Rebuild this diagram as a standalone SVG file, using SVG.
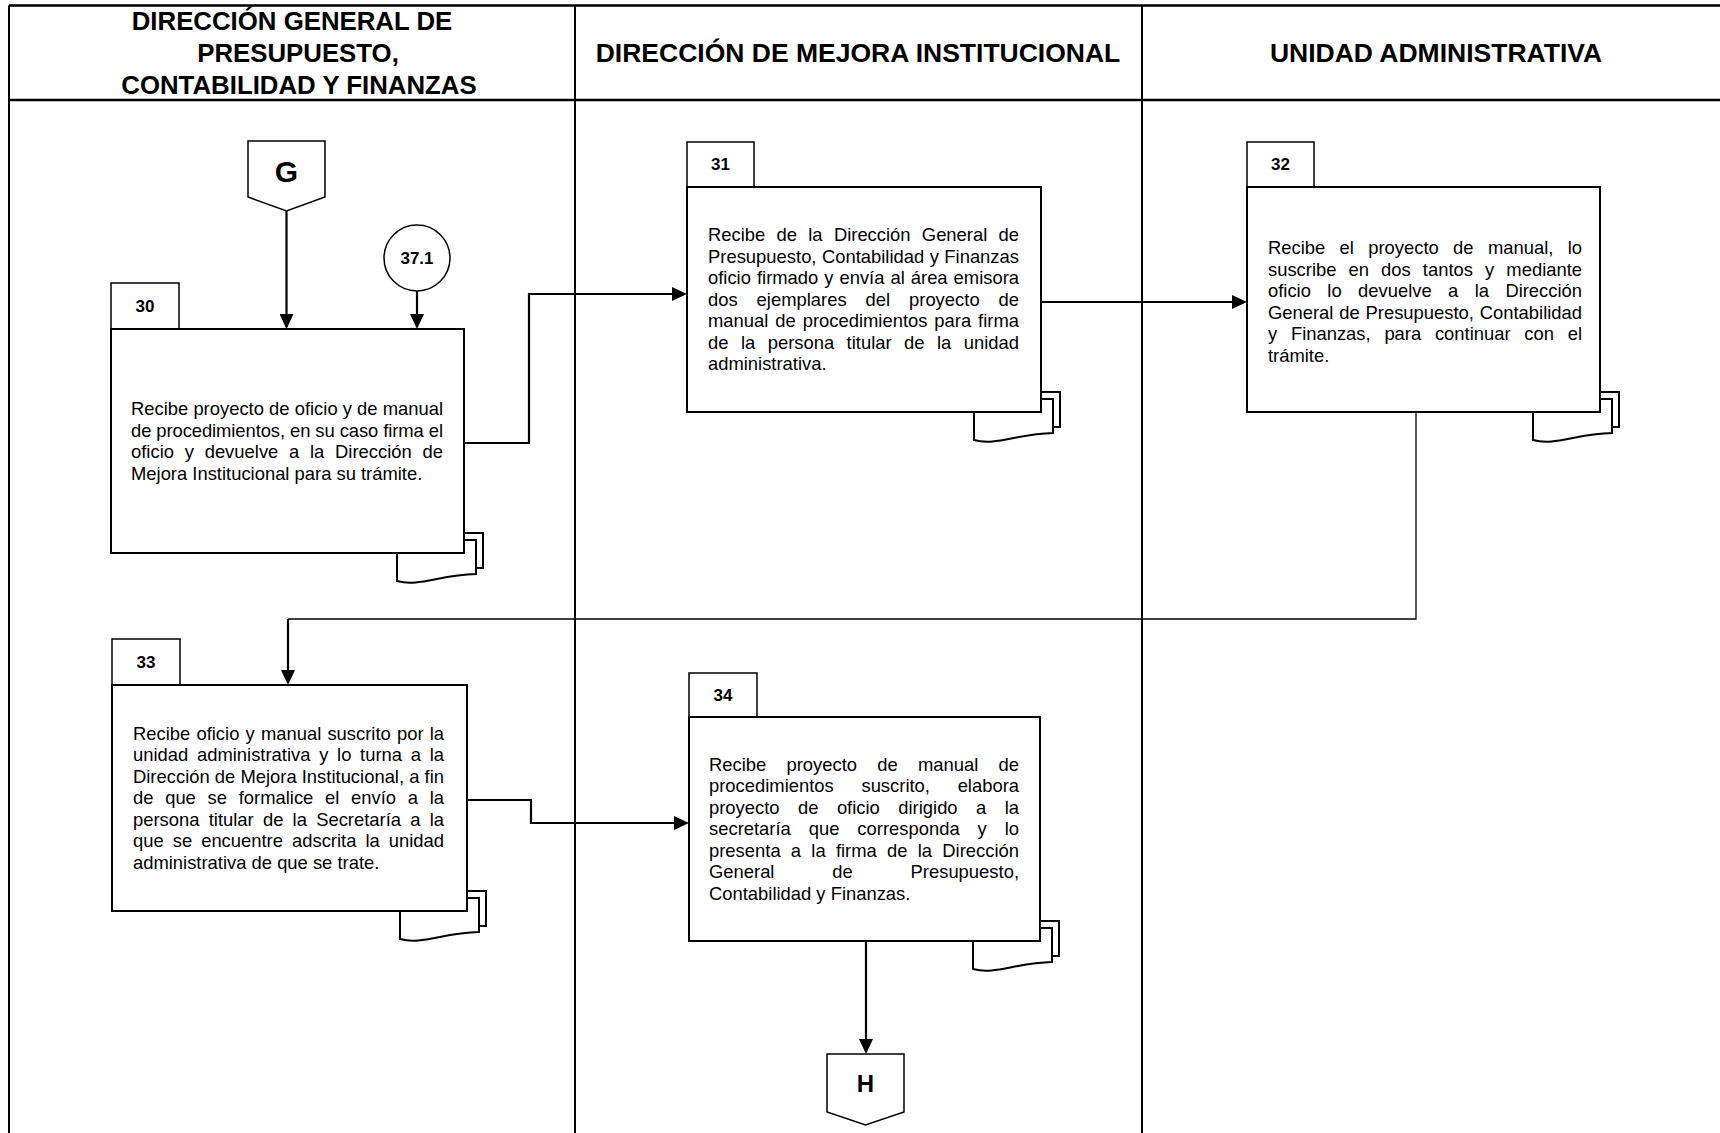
<svg xmlns="http://www.w3.org/2000/svg" xmlns:xlink="http://www.w3.org/1999/xlink" width="1720" height="1133" viewBox="0 0 1720 1133">
<style>
.lane{stroke:#000;stroke-width:2;fill:none}
.hdr{stroke:#000;stroke-width:2.6;fill:none}
.ht{font-family:"Liberation Sans",Arial,sans-serif;font-weight:bold;font-size:26.5px;text-anchor:middle;fill:#000}
.htl{font-family:"Liberation Sans",Arial,sans-serif;font-weight:bold;font-size:25.8px;text-anchor:middle;fill:#000}
.box{fill:#fff;stroke:#000;stroke-width:2}
.tab{fill:#fff;stroke:#000;stroke-width:1.5}
.num{font-family:"Liberation Sans",Arial,sans-serif;font-weight:bold;font-size:17px;text-anchor:middle;fill:#000}
.tx{font-family:"Liberation Sans",Arial,sans-serif;font-size:18.4px;fill:#000}
.doc{fill:#fff;stroke:#000;stroke-width:2}
.con{fill:none;stroke:#000;stroke-width:2.2}
.thin{fill:none;stroke:#000;stroke-width:1.3}
.conn{fill:#fff;stroke:#000;stroke-width:1.5}
.big{font-family:"Liberation Sans",Arial,sans-serif;font-weight:bold;text-anchor:middle;fill:#000}
</style>
<defs>
<marker id="arr" markerUnits="userSpaceOnUse" markerWidth="16" markerHeight="14" refX="13" refY="7" orient="auto">
<path d="M0,0 L15,7 L0,14 Z" fill="#000"/>
</marker>
<g id="docs">
<rect class="doc" x="-60" y="-20" width="79" height="35"/>
<path class="doc" d="M-67,-13 H12 V21 C-25,22 -45,34 -67,28 Z"/>
</g>
</defs>
<rect x="0" y="0" width="1720" height="1133" fill="#fff"/>
<g id="lanes">
<line class="hdr" x1="9" y1="5.5" x2="1720" y2="5.5"/>
<line class="hdr" x1="9" y1="100" x2="1720" y2="100"/>
<line class="lane" x1="9" y1="5.5" x2="9" y2="1133"/>
<line class="lane" x1="575" y1="5.5" x2="575" y2="1133"/>
<line class="lane" x1="1142" y1="5.5" x2="1142" y2="1133"/>
<text class="htl" x="292" y="30">DIRECCIÓN GENERAL DE</text>
<text class="htl" x="298" y="62">PRESUPUESTO,</text>
<text class="htl" x="299" y="94">CONTABILIDAD Y FINANZAS</text>
<text class="ht" x="858" y="62">DIRECCIÓN DE MEJORA INSTITUCIONAL</text>
<text class="ht" x="1436" y="62">UNIDAD ADMINISTRATIVA</text>
</g>
<g id="connectors">
<line class="con" x1="286.5" y1="211" x2="286.5" y2="327" marker-end="url(#arr)"/>
<line class="con" x1="417" y1="291" x2="417" y2="327" marker-end="url(#arr)"/>
<polyline class="con" points="464,443 529,443 529,294 685,294" marker-end="url(#arr)"/>
<line class="con" x1="1041" y1="302" x2="1245" y2="302" marker-end="url(#arr)"/>
<polyline class="thin" points="1416,412 1416,619 288,619"/>
<line class="con" x1="288" y1="619" x2="288" y2="683" marker-end="url(#arr)"/>
<polyline class="con" points="464,800 531,800 531,823 687,823" marker-end="url(#arr)"/>
<line class="con" x1="866" y1="941" x2="866" y2="1052" marker-end="url(#arr)"/>
</g>
<g id="conG">
<polygon class="conn" points="248,141 325,141 325,197 286.5,211 248,197"/>
<text class="big" x="286.5" y="182" font-size="30">G</text>
</g>
<g id="con371">
<circle class="conn" cx="417" cy="258" r="33"/>
<text class="num" x="417" y="264" font-size="17.5">37.1</text>
</g>
<g id="conH">
<polygon class="conn" points="827,1054 904,1054 904,1112 865.5,1125 827,1112"/>
<text class="big" x="865.5" y="1092" font-size="24">H</text>
</g>
<g id="n30">
<use xlink:href="#docs" transform="translate(464,553)"/>
<rect class="tab" x="111" y="283" width="68" height="46"/>
<text class="num" x="145" y="312">30</text>
<rect class="box" x="111" y="329" width="353" height="224"/>
<text class="tx" x="131" y="415" textLength="312" lengthAdjust="spacing">Recibe proyecto de oficio y de manual</text>
<text class="tx" x="131" y="436.5" textLength="312" lengthAdjust="spacing">de procedimientos, en su caso firma el</text>
<text class="tx" x="131" y="458" word-spacing="5.6" textLength="312" lengthAdjust="spacing">oficio y devuelve a la Dirección de</text>
<text class="tx" x="131" y="479.5">Mejora Institucional para su trámite.</text>
</g>
<g id="n31">
<use xlink:href="#docs" transform="translate(1041,412)"/>
<rect class="tab" x="687" y="142" width="67" height="45"/>
<text class="num" x="720.5" y="170">31</text>
<rect class="box" x="687" y="187" width="354" height="225"/>
<text class="tx" x="708" y="241" word-spacing="6.2" textLength="311" lengthAdjust="spacing">Recibe de la Dirección General de</text>
<text class="tx" x="708" y="262.5" word-spacing="0.3" textLength="311" lengthAdjust="spacing">Presupuesto, Contabilidad y Finanzas</text>
<text class="tx" x="708" y="284" word-spacing="0.9" textLength="311" lengthAdjust="spacing">oficio firmado y envía al área emisora</text>
<text class="tx" x="708" y="305.5" word-spacing="13.8" textLength="311" lengthAdjust="spacing">dos ejemplares del proyecto de</text>
<text class="tx" x="708" y="327" word-spacing="1.8" textLength="311" lengthAdjust="spacing">manual de procedimientos para firma</text>
<text class="tx" x="708" y="348.5" word-spacing="7.35" textLength="311" lengthAdjust="spacing">de la persona titular de la unidad</text>
<text class="tx" x="708" y="370">administrativa.</text>
</g>
<g id="n32">
<use xlink:href="#docs" transform="translate(1600,412)"/>
<rect class="tab" x="1247" y="142" width="67" height="45"/>
<text class="num" x="1280.5" y="170">32</text>
<rect class="box" x="1247" y="187" width="353" height="225"/>
<text class="tx" x="1268" y="254" word-spacing="9.2" textLength="314" lengthAdjust="spacing">Recibe el proyecto de manual, lo</text>
<text class="tx" x="1268" y="275.5" word-spacing="7" textLength="314" lengthAdjust="spacing">suscribe en dos tantos y mediante</text>
<text class="tx" x="1268" y="297" word-spacing="11.3" textLength="314" lengthAdjust="spacing">oficio lo devuelve a la Dirección</text>
<text class="tx" x="1268" y="318.5" word-spacing="0.7" textLength="314" lengthAdjust="spacing">General de Presupuesto, Contabilidad</text>
<text class="tx" x="1268" y="340" word-spacing="8.6" textLength="314" lengthAdjust="spacing">y Finanzas, para continuar con el</text>
<text class="tx" x="1268" y="361.5">trámite.</text>
</g>
<g id="n33">
<use xlink:href="#docs" transform="translate(467,911)"/>
<rect class="tab" x="112" y="639" width="68" height="46"/>
<text class="num" x="146" y="668">33</text>
<rect class="box" x="112" y="685" width="355" height="226"/>
<text class="tx" x="133" y="739.5" word-spacing="1.05" textLength="311" lengthAdjust="spacing">Recibe oficio y manual suscrito por la</text>
<text class="tx" x="133" y="761" word-spacing="3.6" textLength="311" lengthAdjust="spacing">unidad administrativa y lo turna a la</text>
<text class="tx" x="133" y="782.5" textLength="311" lengthAdjust="spacing">Dirección de Mejora Institucional, a fin</text>
<text class="tx" x="133" y="804" word-spacing="6.6" textLength="311" lengthAdjust="spacing">de que se formalice el envío a la</text>
<text class="tx" x="133" y="825.5" word-spacing="4.1" textLength="311" lengthAdjust="spacing">persona titular de la Secretaría a la</text>
<text class="tx" x="133" y="847" word-spacing="3.9" textLength="311" lengthAdjust="spacing">que se encuentre adscrita la unidad</text>
<text class="tx" x="133" y="868.5">administrativa de que se trate.</text>
</g>
<g id="n34">
<use xlink:href="#docs" transform="translate(1040,941)"/>
<rect class="tab" x="689" y="673" width="68" height="44"/>
<text class="num" x="723" y="701">34</text>
<rect class="box" x="689" y="717" width="351" height="224"/>
<text class="tx" x="709" y="770.5" word-spacing="15.1" textLength="310" lengthAdjust="spacing">Recibe proyecto de manual de</text>
<text class="tx" x="709" y="792" word-spacing="22.6" textLength="310" lengthAdjust="spacing">procedimientos suscrito, elabora</text>
<text class="tx" x="709" y="813.5" word-spacing="13.3" textLength="310" lengthAdjust="spacing">proyecto de oficio dirigido a la</text>
<text class="tx" x="709" y="835" word-spacing="12.8" textLength="310" lengthAdjust="spacing">secretaría que corresponda y lo</text>
<text class="tx" x="709" y="856.5" word-spacing="5.1" textLength="310" lengthAdjust="spacing">presenta a la firma de la Dirección</text>
<text class="tx" x="709" y="878" word-spacing="52.7" textLength="310" lengthAdjust="spacing">General de Presupuesto,</text>
<text class="tx" x="709" y="899.5">Contabilidad y Finanzas.</text>
</g>
</svg>
